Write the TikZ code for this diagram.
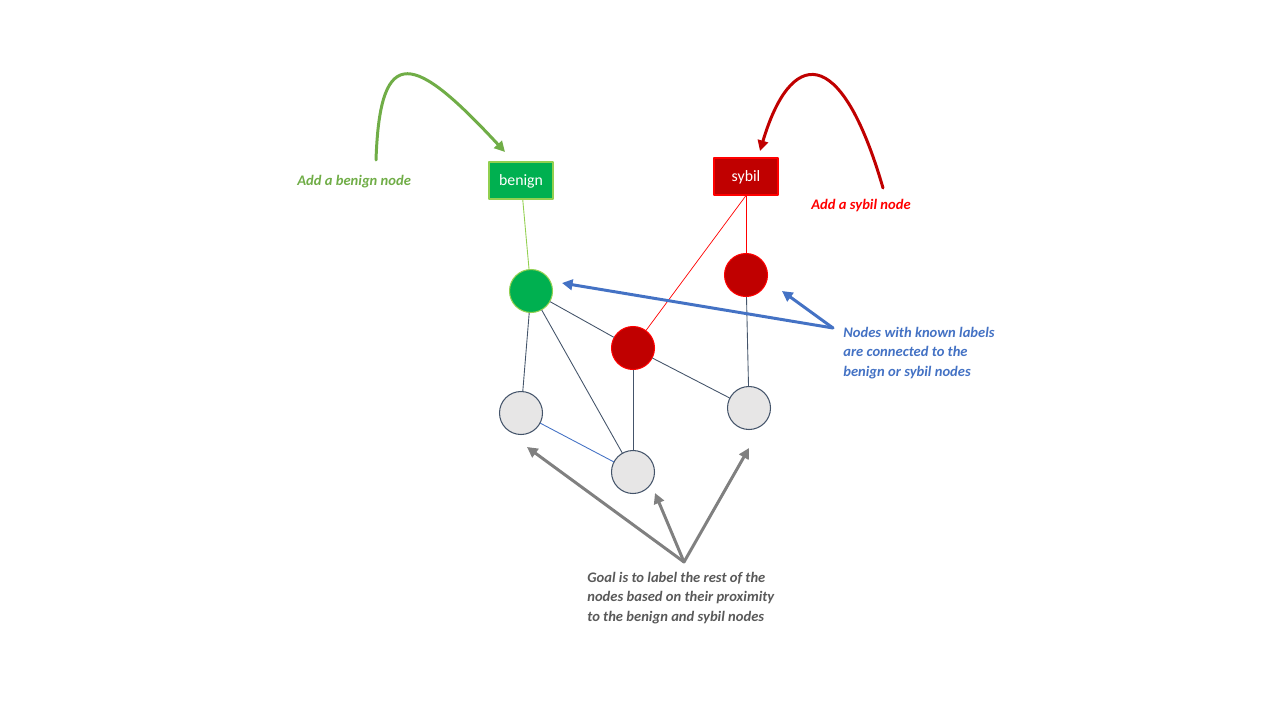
\documentclass[tikz,border=0pt]{standalone}
\usepackage{fontspec}
\setmainfont{Carlito}
\usetikzlibrary{arrows.meta}
\definecolor{nodegreen}{HTML}{00B050}
\definecolor{edgegreen}{HTML}{92D050}
\definecolor{arrowgreen}{HTML}{70AD47}
\definecolor{nodered}{HTML}{C00000}
\definecolor{edgered}{HTML}{FF0000}
\definecolor{labelblue}{HTML}{4472C4}
\definecolor{slate}{HTML}{44546A}
\definecolor{unknownfill}{HTML}{E7E6E6}
\definecolor{goalgray}{HTML}{808080}
\definecolor{goaltext}{HTML}{595959}
\tikzset{
  labelbox/.style={rectangle, minimum width=64*0.02cm, minimum height=37*0.02cm,
    inner sep=0pt, text=white, font=\fontsize{9}{11}\selectfont, line width=0.6pt,
    text height=1.3ex, text depth=0pt},
  vertex/.style={circle, minimum size=43*0.02cm, inner sep=0pt, line width=0.6pt},
  unknown/.style={vertex, fill=unknownfill, draw=slate},
  link/.style={slate, line width=0.5pt},
  fat/.style={line width=1.7pt, -{Triangle[length=6pt, width=6pt]}},
  remark/.style={font=\fontsize{8.3}{11}\selectfont\bfseries\itshape, align=left, inner sep=0pt}
}

\begin{document}
\begin{tikzpicture}[x=0.02cm, y=-0.02cm, line cap=round, line join=round]
  \useasboundingbox (0,0) rectangle (1280,720);

  % ============ Seed nodes ============
  \node[labelbox, fill=nodegreen, draw=edgegreen] (benign) at (521,180.5) {benign};
  \node[labelbox, fill=nodered, draw=edgered] (sybil) at (746,176.5) {sybil};

  % ============ Graph ============
  \node[vertex, fill=nodegreen, draw=edgegreen] (g1) at (531,291) {};
  \node[vertex, fill=nodered, draw=edgered] (s1) at (746,275) {};
  \node[vertex, fill=nodered, draw=edgered] (s2) at (633,348) {};
  \node[unknown] (u1) at (521,413) {};
  \node[unknown] (u2) at (633,472) {};
  \node[unknown] (u3) at (749,408) {};

  \draw[edgegreen, line width=0.5pt] (benign) -- (g1);
  \draw[edgered, line width=0.5pt] (sybil) -- (s1);
  \draw[edgered, line width=0.4pt] (sybil.south) -- (s2);
  \draw[link] (g1) -- (s2);
  \draw[link] (g1) -- (u1);
  \draw[link] (g1) -- (u2);
  \draw[link] (s2) -- (u2);
  \draw[link] (s2) -- (u3);
  \draw[link] (s1) -- (u3);
  \draw[labelblue, line width=0.5pt] (u1) -- (u2);

  % ============ Annotations ============
  \coordinate (gstart) at (376,160);
  \coordinate (gtip) at (505,152);
  \draw[arrowgreen, fat] (gstart) .. controls (380,40) and (415,55) .. (gtip);
  \node[remark, text=arrowgreen, anchor=west] (addbenign) at (297,182) {Add a benign node};

  \coordinate (rstart) at (883,188);
  \coordinate (rtip) at (760,151);
  \draw[nodered, fat] (rstart) .. controls (840,40) and (790,50) .. (rtip);
  \node[remark, text=edgered, anchor=west] (addsybil) at (811,206) {Add a sybil node};

  \node[remark, text=labelblue, anchor=north west] (known) at (843,327)
    {Nodes with known labels\\are connected to the\\benign or sybil nodes};
  \coordinate (bsrc) at (833,328);
  \coordinate (btip1) at (562,283);
  \coordinate (btip2) at (782,291);
  \draw[labelblue, fat] (bsrc) -- (btip1);
  \draw[labelblue, fat] (bsrc) -- (btip2);

  \node[remark, text=goaltext, anchor=north west] (goal) at (587,572)
    {Goal is to label the rest of the\\nodes based on their proximity\\to the benign and sybil nodes};
  \coordinate (gsrc) at (684,562);
  \coordinate (gtip1) at (527,447);
  \coordinate (gtip2) at (655,493);
  \coordinate (gtip3) at (749,448);
  \draw[goalgray, fat] (gsrc) -- (gtip1);
  \draw[goalgray, fat] (gsrc) -- (gtip2);
  \draw[goalgray, fat] (gsrc) -- (gtip3);

\end{tikzpicture}
\end{document}
